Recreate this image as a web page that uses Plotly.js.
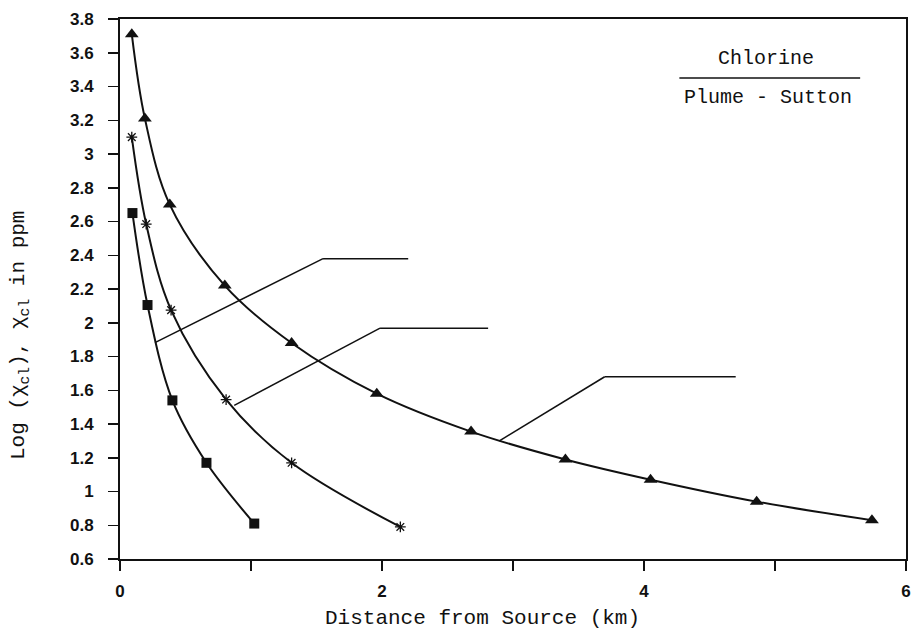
<!DOCTYPE html>
<html>
<head>
<meta charset="utf-8">
<script src="https://cdn.plot.ly/plotly-3.0.1.min.js"></script>
<style>
  html, body { margin: 0; padding: 0; background: #fff; }
  #chart { width: 912px; height: 631px; }
</style>
</head>
<body>
<div id="chart"></div>
<script>
// Chlorine concentration vs. downwind distance (Sutton plume model)
const triDist = [0.09, 0.19, 0.38, 0.80, 1.31, 1.96, 2.68, 3.40, 4.05, 4.86, 5.74];
const triLog  = [3.71, 3.21, 2.70, 2.22, 1.88, 1.58, 1.355, 1.19, 1.07, 0.94, 0.83];

const starDist = [0.09, 0.20, 0.39, 0.81, 1.31, 2.14];
const starLog  = [3.10, 2.585, 2.075, 1.545, 1.17, 0.79];

const sqDist = [0.095, 0.21, 0.40, 0.66, 1.025];
const sqLog  = [2.65, 2.105, 1.54, 1.17, 0.81];

const yTickVals = [0.6, 0.8, 1.0, 1.2, 1.4, 1.6, 1.8, 2.0, 2.2, 2.4, 2.6, 2.8, 3.0, 3.2, 3.4, 3.6, 3.8];
const yTickText = ['0.6', '0.8', '1', '1.2', '1.4', '1.6', '1.8', '2', '2.2', '2.4', '2.6', '2.8', '3', '3.2', '3.4', '3.6', '3.8'];
const xTickVals = [0, 2, 4, 6];
const xTickText = ['0', '2', '4', '6'];

// leader lines (x, y in axis units): curve point -> elbow -> end of shelf
const leaderA = [[0.267, 1.882], [1.55, 2.38], [2.20, 2.38]];
const leaderB = [[0.872, 1.51], [1.985, 1.968], [2.81, 1.968]];
const leaderC = [[2.896, 1.30], [3.70, 1.68], [4.70, 1.68]];

const mono = 'Liberation Mono';
const sans = 'Liberation Sans';
const black = '#111';

const bold = s => '<b>' + s + '</b>';

function curve(x, y, symbol, size, lineW) {
  return {
    x: x, y: y, type: 'scatter', mode: 'lines+markers',
    line: { color: black, width: 2, shape: 'spline', smoothing: 1 },
    marker: { symbol: symbol, size: size, color: black, line: { color: black, width: lineW } },
    showlegend: false, hoverinfo: 'x+y'
  };
}

const traces = [
  curve(triDist, triLog, 'triangle-up', 12, 0),
  curve(starDist, starLog, 'asterisk-open', 9, 1.3),
  curve(sqDist, sqLog, 'square', 10, 0)
];

function leaderShapes(pts) {
  const out = [];
  for (let i = 0; i < pts.length - 1; i++) {
    out.push({ type: 'line', xref: 'x', yref: 'y',
      x0: pts[i][0], y0: pts[i][1], x1: pts[i + 1][0], y1: pts[i + 1][1],
      line: { color: black, width: 1.5 } });
  }
  return out;
}

const shapes = [].concat(
  leaderShapes(leaderA), leaderShapes(leaderB), leaderShapes(leaderC),
  [{ type: 'line', xref: 'x', yref: 'y', x0: 4.27, y0: 3.45, x1: 5.65, y1: 3.45,
     line: { color: black, width: 1.5 } }]
);

const layout = {
  width: 912, height: 631,
  margin: { l: 120, r: 6, t: 19, b: 72 },
  paper_bgcolor: '#fff', plot_bgcolor: '#fff',
  showlegend: false,
  xaxis: {
    range: [0, 6], tickmode: 'array', tickvals: xTickVals, ticktext: xTickText.map(bold),
    ticks: 'outside', ticklen: 10, tickwidth: 1.5, tickcolor: black,
    ticklabelstandoff: 6,
    minor: { dtick: 1, ticks: 'outside', ticklen: 10, tickwidth: 1.5, tickcolor: black, showgrid: false },
    showgrid: false, zeroline: false,
    showline: true, mirror: true, linecolor: black, linewidth: 2,
    tickfont: { family: sans, size: 17, color: black }
  },
  yaxis: {
    range: [0.6, 3.8], tickmode: 'array', tickvals: yTickVals, ticktext: yTickText.map(bold),
    ticks: 'outside', ticklen: 10, tickwidth: 1.5, tickcolor: black,
    ticklabelstandoff: 11,
    showgrid: false, zeroline: false,
    showline: true, mirror: true, linecolor: black, linewidth: 2,
    tickfont: { family: sans, size: 17, color: black }
  },
  shapes: shapes,
  annotations: [
    { x: 4.93, y: 3.566, xref: 'x', yref: 'y', text: 'Chlorine', showarrow: false,
      font: { family: mono, size: 20, color: black } },
    { x: 4.95, y: 3.334, xref: 'x', yref: 'y', text: 'Plume - Sutton', showarrow: false,
      font: { family: mono, size: 20, color: black } },
    // axis titles
    { x: 0.4606, y: -0.111, xref: 'paper', yref: 'paper', text: 'Distance from Source (km)',
      showarrow: false, xanchor: 'center', yanchor: 'middle',
      font: { family: mono, size: 21, color: black } },
    { x: -0.127, y: 0.415, xref: 'paper', yref: 'paper',
      text: 'Log (χ<sub>cl</sub>), χ<sub>cl</sub> in ppm', textangle: -90,
      showarrow: false, xanchor: 'center', yanchor: 'middle',
      font: { family: mono, size: 21, color: black } }
  ]
};

Plotly.newPlot('chart', traces, layout, { displayModeBar: false, staticPlot: true });
</script>
</body>
</html>
